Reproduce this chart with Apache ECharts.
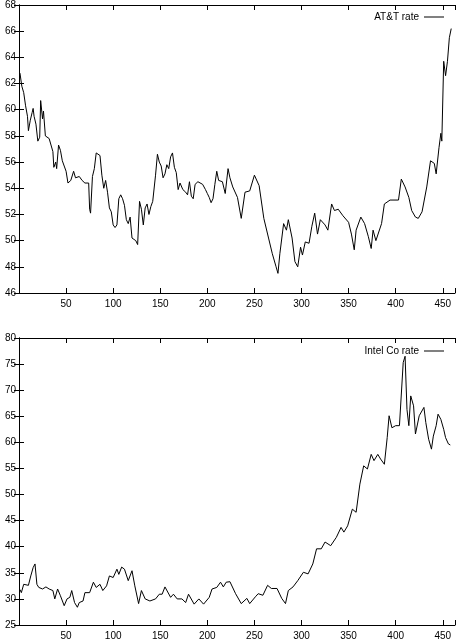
<!DOCTYPE html>
<html><head><meta charset="utf-8">
<script src="https://cdn.jsdelivr.net/npm/echarts@6/dist/echarts.min.js"></script>
<style>html,body{margin:0;padding:0;background:#fff}#c{width:458px;height:641px}</style>
</head><body><div id="c"></div>
<script>
const attX=[1,3,5,7,9,10,12,14,15,16,18,20,22,23,25,26,28,32,34,36,37,39,40,42,44,46,48,50,52,55,58,60,62,64,67,70,74,75,76,78,80,82,84,86,88,90,92,94,96,98,100,102,104,106,108,110,112,114,116,118,120,122,124,126,128,130,132,134,136,138,140,142,145,147,149,151,153,155,157,159,161,163,165,167,169,171,174,177,179,181,183,185,187,190,192,195,198,200,202,204,206,208,210,212,214,216,219,222,224,227,232,236,240,245,250,255,260,265,269,273,275,277,281,284,286,290,293,296,299,301,304,308,311,314,317,320,325,328,332,335,339,344,350,353,356,358,363,367,371,374,376,379,385,388,394,403,406,410,414,417,421,424,428,433,437,441,443,446,448,449,451,453,455,457,459];
const attY=[62.8,61.8,61.3,60.3,59.5,58.4,59.2,59.8,60.1,59.5,58.9,57.6,57.9,60.7,59.3,59.9,58.0,57.8,57.8,56.8,55.6,56.0,55.5,57.3,56.9,56.1,55.7,55.3,54.4,54.6,55.3,54.8,54.7,54.9,54.6,54.4,54.4,52.4,52.1,54.9,55.5,56.7,56.7,56.5,55.0,54.0,54.6,53.7,52.5,52.2,51.2,51.0,51.2,53.2,53.5,53.2,52.7,51.6,51.3,51.8,50.2,50.3,50.0,49.7,53.0,52.4,51.2,52.5,52.8,52.0,52.6,53.0,55.0,56.6,56.0,55.7,54.8,55.1,55.8,55.5,56.4,56.7,55.6,55.2,53.9,54.4,53.9,53.7,53.5,54.5,53.4,53.2,54.3,54.5,54.6,54.3,53.9,53.6,53.3,52.9,53.2,54.3,55.3,54.6,54.6,54.5,53.6,55.5,54.8,54.1,53.3,51.7,53.7,53.8,55.0,54.2,51.7,50.2,49.0,48.0,47.5,49.0,51.3,50.8,51.6,50.2,48.4,48.0,49.5,48.9,49.9,49.8,51.1,52.1,50.5,51.6,51.2,50.8,52.8,52.3,52.4,51.9,51.4,50.5,49.3,50.8,51.8,51.3,50.3,49.4,50.8,50.0,51.3,52.8,53.1,53.1,54.7,54.1,53.3,52.3,51.8,51.7,52.2,54.1,56.1,55.9,55.1,57.1,58.2,57.6,63.7,62.6,63.7,65.5,66.2];
const intX=[1,2.5,5,10,12.5,15,17,19,21,25,28.6,32,36,38,41,44,48,51,54,56,59,62,64,68,70,75,79,82,86,89,93,96,100,104,106,109,112,116,120,123,127,130,134,139,145,149,152,155,161,164,168,173,177,180,186,191,196,202,205,210,214,217,220,224,230,236,242,245,251,254,259,264,268,274,279,283,286,291,296,302,307,312,316,321,325,331,337,342,345,349,354,358,362,366,370,374,377,381,384,388,391,393,396,400,404,408,410,412,414,416,419,421,425,430,432,435,438,440,443,445,448,451,453,456,458];
const intY=[31.8,31.2,32.8,32.6,34.4,36.0,36.7,32.8,32.2,31.9,32.3,31.9,31.6,30.0,31.9,30.6,28.7,30.0,30.3,31.6,29.3,28.4,29.3,29.6,31.2,31.2,33.2,32.2,32.8,31.6,32.5,34.4,34.1,35.7,34.7,36.1,35.7,33.5,35.4,32.5,29.1,31.6,30.0,29.6,30.0,30.9,30.9,32.3,30.3,30.9,30.0,30.0,29.3,30.9,29.0,30.0,29.0,30.3,31.9,32.2,33.2,32.3,33.2,33.3,31.0,29.1,30.1,29.1,30.4,31.0,30.7,32.6,32.0,32.0,30.1,29.1,31.6,32.3,33.5,35.1,34.8,36.7,39.6,39.6,40.9,40.2,41.8,43.7,42.8,44.0,47.2,46.6,52.0,55.5,54.9,57.7,56.5,57.7,56.8,55.8,60.9,65.1,62.8,63.2,63.2,75.3,76.5,66.3,63.2,68.9,67.0,61.6,65.1,66.7,63.8,60.6,58.7,61.2,63.2,65.4,64.4,62.5,60.9,59.7,59.5];
const xTicks=[50,100,150,200,250,300,350,400,450];

const F='"Liberation Sans", Arial, sans-serif';
const tx={color:'#000',fontFamily:F,fontSize:10};
const pair=(xs,ys)=>xs.map((x,i)=>[x,ys[i]]);
function xAxes(gi){
  const base={type:'value',gridIndex:gi,min:0,max:463,interval:50,splitLine:{show:false},
    axisLine:{lineStyle:{color:'#000'}},axisTick:{inside:true,length:5,lineStyle:{color:'#000'}}};
  return [Object.assign({},base,{position:'bottom',axisLabel:Object.assign({},tx,{margin:6,formatter:v=>xTicks.includes(v)?v:''})}),
          Object.assign({},base,{position:'top',axisLabel:{show:false}})];
}
function yAxes(gi,min,max,iv){
  const base={type:'value',gridIndex:gi,min,max,interval:iv,splitLine:{show:false},
    axisLine:{lineStyle:{color:'#000'}},axisTick:{inside:true,length:5,lineStyle:{color:'#000'}}};
  return [Object.assign({},base,{position:'left',axisLabel:Object.assign({},tx,{margin:3})}),
          Object.assign({},base,{position:'right',axisLabel:{show:false}})];
}
const chart=echarts.init(document.getElementById('c'));
chart.setOption({
  animation:false,
  grid:[{left:19,right:2,top:4,bottom:348},{left:19,right:2,top:338,bottom:12}],
  xAxis:[...xAxes(0),...xAxes(1)],
  yAxis:[...yAxes(0,46,68,2),...yAxes(1,25,80,5)],
  legend:[
    {data:['AT&T rate'],right:14,top:12,align:'right',itemWidth:20,itemHeight:1,itemGap:4,icon:'rect',textStyle:tx,padding:0},
    {data:['Intel Co rate'],right:14,top:346,align:'right',itemWidth:20,itemHeight:1,itemGap:4,icon:'rect',textStyle:tx,padding:0}
  ],
  series:[
    {name:'AT&T rate',type:'line',xAxisIndex:0,yAxisIndex:0,data:pair(attX,attY),showSymbol:false,lineStyle:{color:'#000',width:1},itemStyle:{color:'#000'}},
    {name:'Intel Co rate',type:'line',xAxisIndex:2,yAxisIndex:2,data:pair(intX,intY),showSymbol:false,lineStyle:{color:'#000',width:1},itemStyle:{color:'#000'}}
  ]
});
</script></body></html>
